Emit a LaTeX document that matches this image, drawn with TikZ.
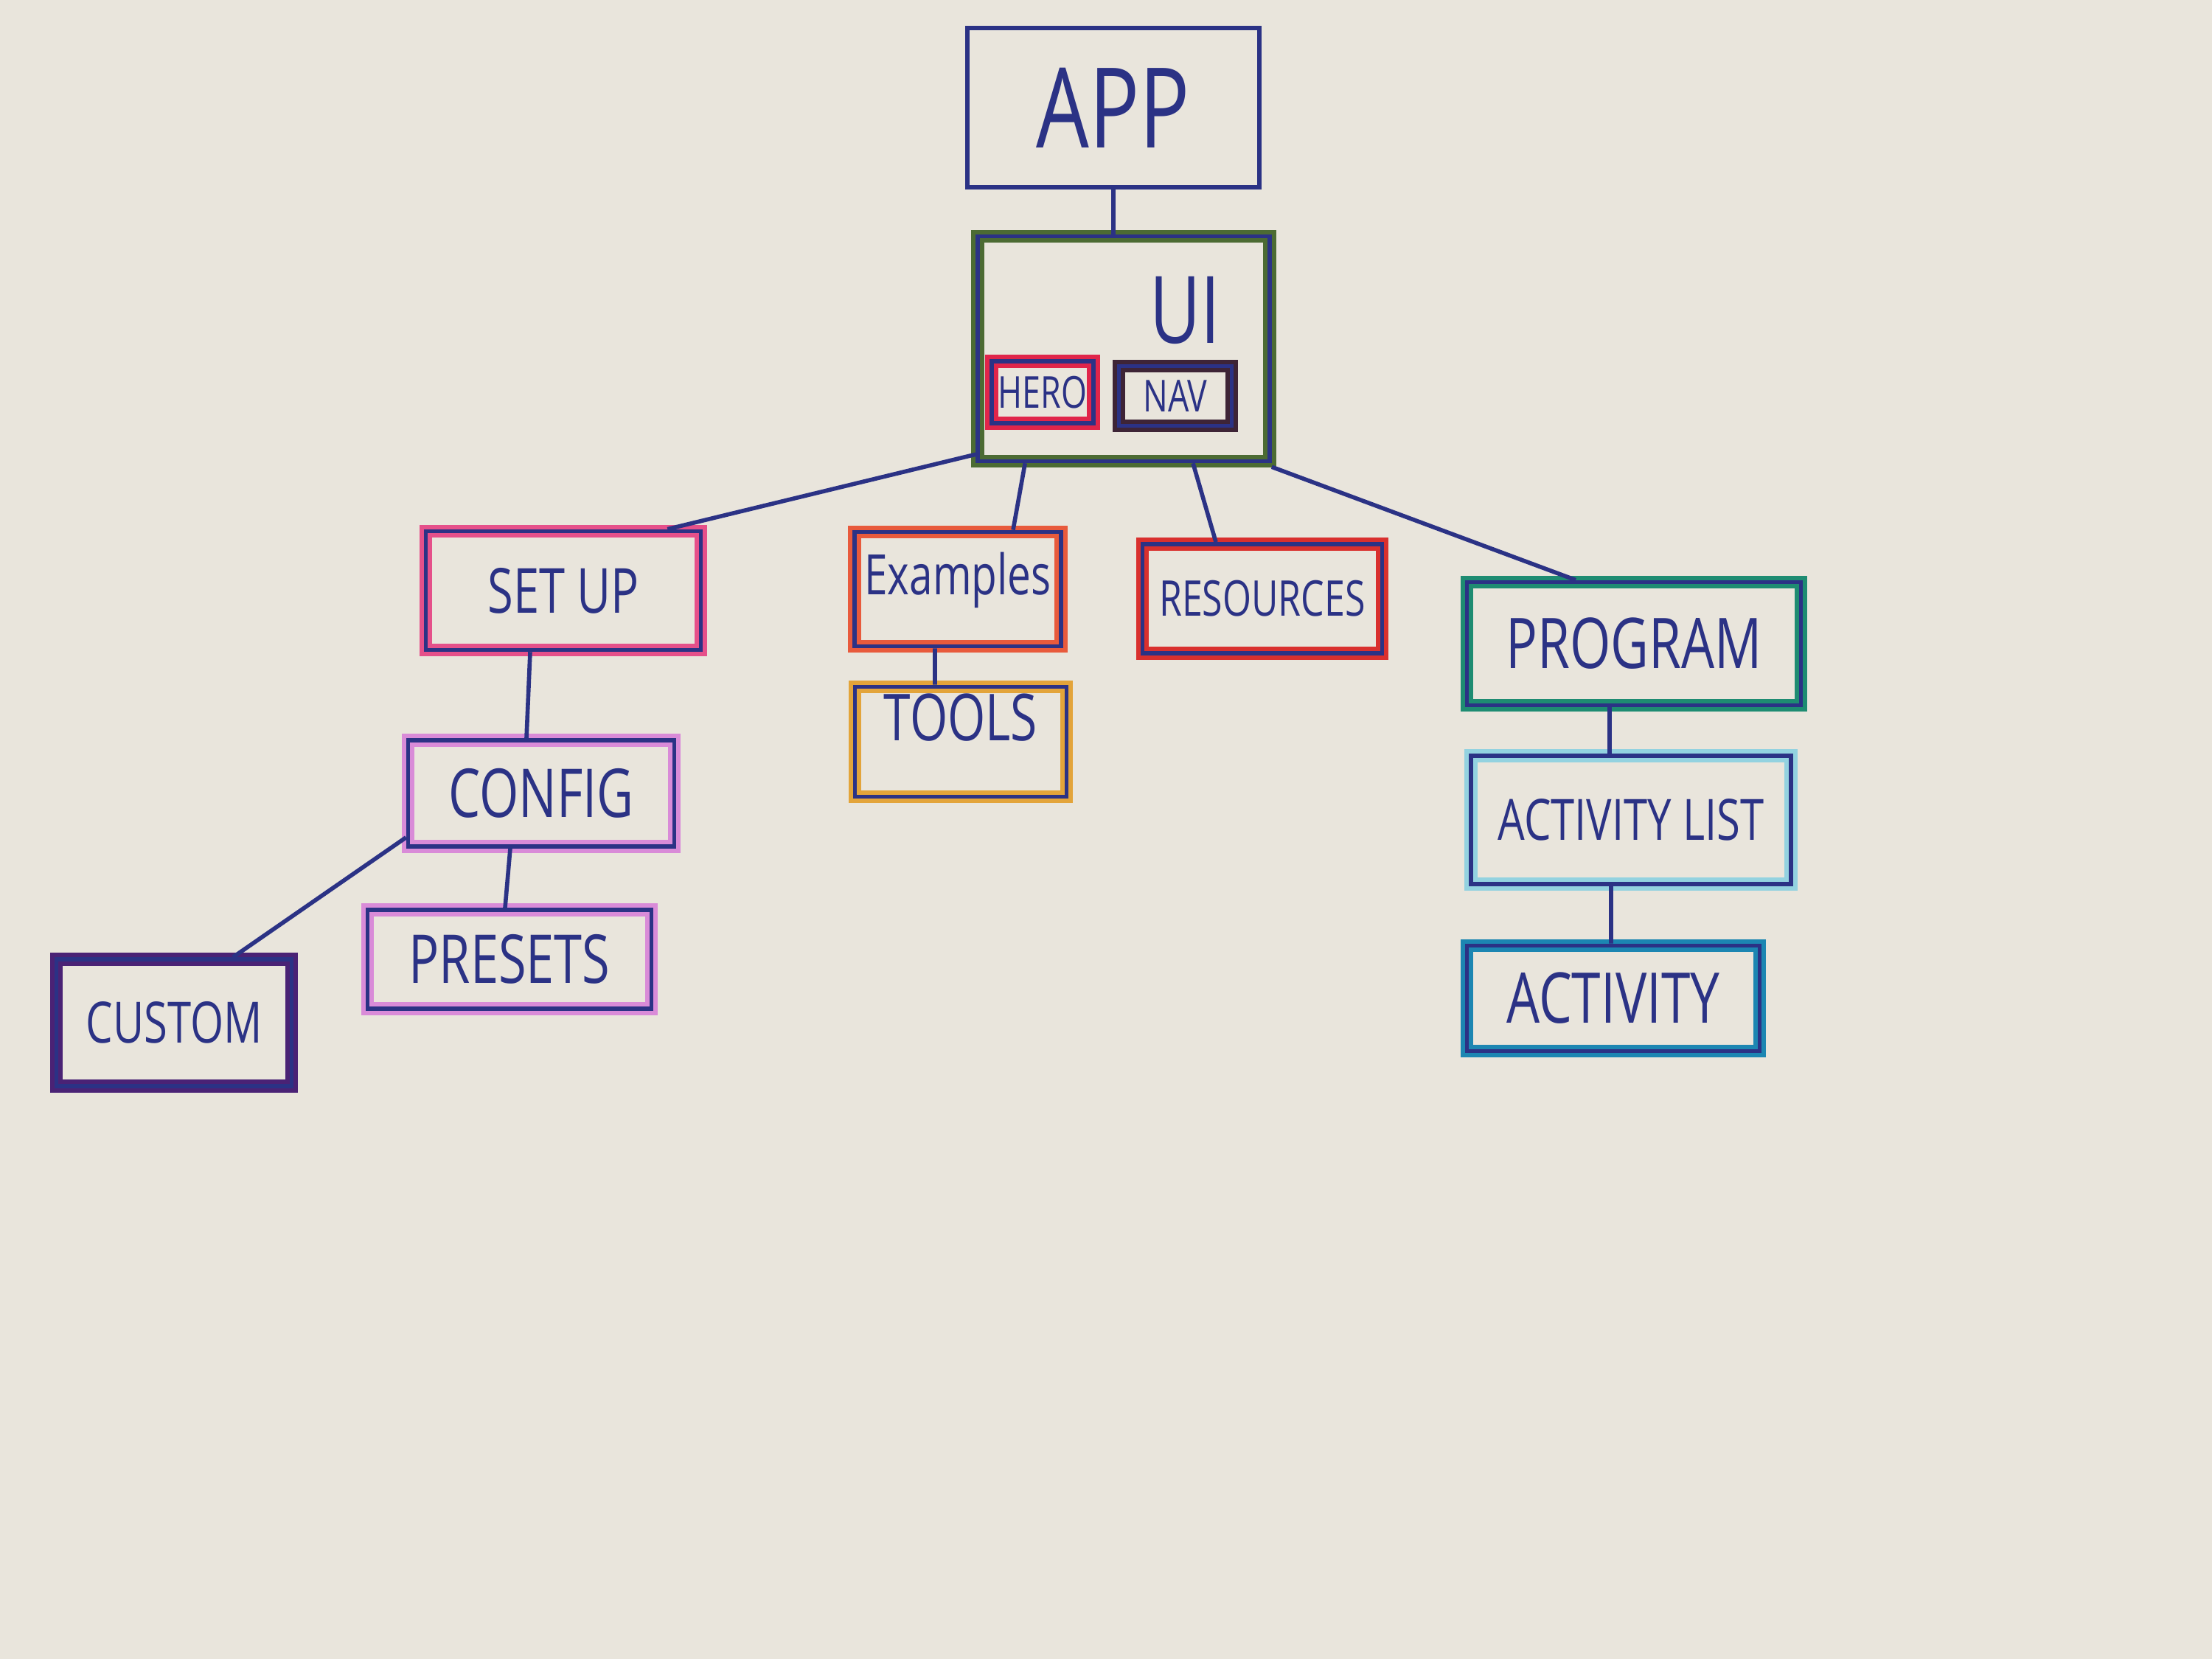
\documentclass[tikz,border=0pt]{standalone}
\usepackage{fontspec}
\setmainfont[FakeStretch=0.75]{Open Sans}
\usepackage{tikz}

\definecolor{pen}{HTML}{2B3285}
\definecolor{paper}{HTML}{E9E5DC}
\definecolor{uigreen}{HTML}{4C6B33}
\definecolor{herored}{HTML}{E0254A}
\definecolor{navbrown}{HTML}{3E2436}
\definecolor{setpink}{HTML}{E5508A}
\definecolor{exorange}{HTML}{E85A3C}
\definecolor{resred}{HTML}{D9302E}
\definecolor{progteal}{HTML}{1E8C72}
\definecolor{toolgold}{HTML}{E3A43A}
\definecolor{cfgmauve}{HTML}{D98BD8}
\definecolor{custpurple}{HTML}{4A2275}
\definecolor{listcyan}{HTML}{93D2E0}
\definecolor{actblue}{HTML}{1C86B2}

\newcommand{\fsz}[1]{\fontsize{#1}{#1}\selectfont}

\begin{document}
\begin{tikzpicture}[
		box/.style={draw=pen,line width=1.6pt,inner sep=0pt,text=pen,font=\fsz{24}},
		hl/.style={preaction={draw=#1,line width=5pt}},
		link/.style={draw=pen,line width=1.6pt}]
		\fill[paper] (0,0) rectangle (30,22.5);
		\useasboundingbox (0,0) rectangle (30,22.5);
		%	\draw[very thin,color=gray] (0,0) grid (30,22.5);
		% top of the tree
		\node[box,line width=1.9pt,minimum width=3.96cm,minimum height=2.16cm,font=\fsz{43}] (app) at (15.10,21.04) {APP};
		\node[box,hl=uigreen,minimum width=3.96cm,minimum height=3.05cm] (ui) at (15.24,17.77) {};
		\node[text=pen,font=\fsz{36}] (uitxt) at (16.07,18.29) {UI};
		\node[box,hl=herored,minimum width=1.38cm,minimum height=0.84cm,font=\fsz{17}] (hero) at (14.14,17.18) {HERO};
		\node[box,hl=navbrown,minimum width=1.53cm,minimum height=0.81cm,font=\fsz{17}] (nav) at (15.94,17.13) {NAV};
		% second row
		\node[box,hl=setpink,minimum width=3.73cm,minimum height=1.61cm,font=\fsz{24}] (setup) at (7.64,14.49) {SET UP};
		\node[box,hl=exorange,minimum width=2.80cm,minimum height=1.55cm,font=\fsz{21.5},text height=0.54cm,text depth=0.38cm] (examples) at (12.99,14.51) {Examples};
		\node[box,hl=resred,minimum width=3.25cm,minimum height=1.48cm,font=\fsz{19}] (resources) at (17.12,14.38) {RESOURCES};
		\node[box,hl=progteal,minimum width=4.53cm,minimum height=1.67cm,font=\fsz{27}] (program) at (22.16,13.77) {PROGRAM};
		% below
		\node[box,hl=toolgold,minimum width=2.87cm,minimum height=1.49cm,font=\fsz{25},text height=0.63cm,text depth=0.66cm] (tools) at (13.03,12.44) {TOOLS};
		\node[box,hl=cfgmauve,minimum width=3.61cm,minimum height=1.44cm,font=\fsz{26}] (config) at (7.34,11.74) {CONFIG};
		\node[box,hl=cfgmauve,minimum width=3.85cm,minimum height=1.34cm,font=\fsz{26}] (presets) at (6.91,9.49) {PRESETS};
		\node[box,hl=custpurple,minimum width=3.19cm,minimum height=1.72cm,font=\fsz{22}] (custom) at (2.36,8.63) {CUSTOM};
		\node[box,hl=listcyan,minimum width=4.34cm,minimum height=1.74cm,font=\fsz{22}] (actlist) at (22.12,11.38) {ACTIVITY LIST};
		\node[box,hl=actblue,minimum width=3.97cm,minimum height=1.43cm,font=\fsz{27}] (activity) at (21.88,8.96) {ACTIVITY};
		% links
		\draw[link] (app.south) -- (app.south |- ui.north);
		\draw[link] ([yshift=0.12cm]ui.south west) -- ([xshift=-0.48cm]setup.north east);
		\draw[link] ([xshift=0.67cm]ui.south west) -- ([xshift=0.75cm]examples.north);
		\draw[link] ([xshift=0.94cm]ui.south) -- ([xshift=-0.63cm]resources.north);
		\draw[link] ([yshift=-0.05cm]ui.south east) -- ([xshift=-0.79cm]program.north);
		\draw[link] ([xshift=-0.45cm]setup.south) -- ([xshift=-0.20cm]config.north);
		\draw[link] ([xshift=-0.31cm]examples.south) -- ([xshift=-0.35cm]tools.north);
		\draw[link] ([yshift=0.15cm]config.south west) -- ([xshift=0.80cm]custom.north);
		\draw[link] ([xshift=-0.42cm]config.south) -- ([xshift=-0.06cm]presets.north);
		\draw[link] ([xshift=-0.33cm]program.south) -- ([xshift=-0.29cm]actlist.north);
		\draw[link] ([xshift=-0.27cm]actlist.south) -- ([xshift=-0.03cm]activity.north);
\end{tikzpicture}
\end{document}
